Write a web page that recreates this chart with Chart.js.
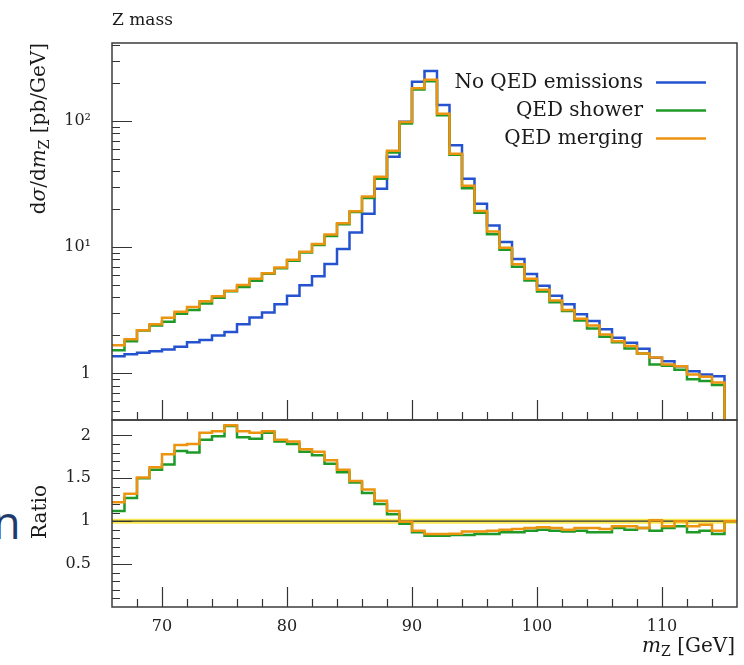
<!DOCTYPE html>
<html lang="en">
<head>
<meta charset="UTF-8" />
<title>Z mass</title>
<style>
  body { margin: 0; background: #fff; width: 744px; height: 665px; overflow: hidden; position: relative; }
  canvas { position: absolute; left: 0; }
  #zTop { top: 0; }
  #zRatio { top: 397px; }
  .stray { position: absolute; left: -7px; top: 499px; font: 45px/1 "Open Sans", sans-serif; color: #1f3a6e; }
</style>
<script src="https://cdn.jsdelivr.net/npm/chart.js"></script>
</head>
<body>
<span class="stray">n</span>
<canvas id="zTop" width="744" height="443"></canvas>
<canvas id="zRatio" width="744" height="268"></canvas>

<script>
  // bin edges in GeV (1 GeV bins)
  const binEdges = [66, 67, 68, 69, 70, 71, 72, 73, 74, 75, 76, 77, 78, 79, 80, 81, 82, 83, 84, 85,
    86, 87, 88, 89, 90, 91, 92, 93, 94, 95, 96, 97, 98, 99, 100, 101, 102, 103, 104, 105,
    106, 107, 108, 109, 110, 111, 112, 113, 114, 115, 116];

  // dsigma/dmZ [pb/GeV], bins 66..114
  const noQED = [1.37, 1.42, 1.46, 1.50, 1.55, 1.63, 1.77, 1.84, 2.00, 2.13,
    2.45, 2.77, 3.04, 3.54, 4.12, 5.01, 5.88, 7.36, 9.69, 13.1,
    18.4, 29.1, 52.0, 98.7, 205, 249, 134, 64.3, 34.9, 22.1,
    14.9, 11.0, 8.07, 6.13, 4.95, 4.12, 3.54, 2.95, 2.61, 2.24,
    1.92, 1.75, 1.57, 1.33, 1.25, 1.14, 1.04, 0.98, 0.95];
  const qedShower = [1.53, 1.80, 2.19, 2.40, 2.57, 2.97, 3.19, 3.59, 3.98, 4.49,
    4.85, 5.43, 6.17, 6.83, 7.83, 9.07, 10.4, 12.3, 15.2, 19.0,
    24.5, 34.9, 56.2, 95.7, 178, 207, 111, 54.0, 29.3, 18.8,
    12.7, 9.57, 7.02, 5.46, 4.46, 3.67, 3.12, 2.63, 2.27, 1.95,
    1.77, 1.58, 1.44, 1.18, 1.15, 1.07, 0.90, 0.87, 0.81];
  const qedMerging = [1.67, 1.87, 2.20, 2.45, 2.76, 3.08, 3.36, 3.74, 4.10, 4.52,
    5.02, 5.62, 6.23, 6.90, 7.95, 9.22, 10.6, 12.6, 15.5, 19.3,
    25.2, 36.1, 58.2, 98.2, 182, 212, 114, 55.0, 30.7, 19.4,
    13.3, 9.9, 7.34, 5.64, 4.60, 3.79, 3.19, 2.71, 2.40, 2.04,
    1.80, 1.65, 1.44, 1.34, 1.18, 1.14, 0.98, 0.94, 0.85];

  // ratio to "No QED emissions", bins 66..115
  const showerRatio = [1.12, 1.27, 1.50, 1.60, 1.66, 1.82, 1.80, 1.95, 1.99, 2.11,
    1.98, 1.96, 2.03, 1.93, 1.90, 1.81, 1.77, 1.67, 1.57, 1.45,
    1.33, 1.20, 1.08, 0.97, 0.87, 0.83, 0.83, 0.84, 0.84, 0.85,
    0.85, 0.87, 0.87, 0.89, 0.90, 0.89, 0.88, 0.89, 0.87, 0.87,
    0.92, 0.90, 0.92, 0.89, 0.92, 0.94, 0.87, 0.89, 0.85, 1.00];
  const mergingRatio = [1.22, 1.32, 1.51, 1.63, 1.78, 1.89, 1.90, 2.03, 2.05, 2.12,
    2.05, 2.03, 2.05, 1.95, 1.93, 1.84, 1.81, 1.71, 1.60, 1.47,
    1.37, 1.24, 1.12, 0.995, 0.89, 0.85, 0.85, 0.855, 0.88, 0.88,
    0.89, 0.90, 0.91, 0.92, 0.93, 0.92, 0.90, 0.92, 0.92, 0.91,
    0.94, 0.94, 0.92, 1.01, 0.94, 1.00, 0.94, 0.96, 0.89, 1.00];
  const refRatio = 1;

  const seriesNames = ["No QED emissions", "QED shower", "QED merging"];
  const colors = ["#2553cf", "#1f9a28", "#ec9410"];

  const topMin = 0.428, topMax = 415;
  const serif = '"DejaVu Serif", serif';

  // histogram as step line: one point per lower edge + closing point
  function histPoints(values, floor) {
    const pts = values.map((v, i) => ({ x: binEdges[i], y: v }));
    const n = values.length;
    pts.push({ x: binEdges[n], y: values[n - 1] });
    if (floor !== undefined) pts.push({ x: binEdges[n], y: floor });
    return pts;
  }

  // stepped "before": each value runs from its own edge to the next one
  function stepSet(label, data, color, order) {
    return {
      label: label, data: data, borderColor: color, backgroundColor: color,
      borderWidth: 2.5, stepped: "before", pointRadius: 0, fill: false,
      borderJoinStyle: "miter", borderCapStyle: "butt", order: order,
    };
  }

  function drawRich(ctx, parts, x, y) {
    let cx = x;
    parts.forEach((p) => {
      ctx.font = p.font;
      ctx.fillText(p.text, cx, y + (p.dy || 0));
      cx += ctx.measureText(p.text).width;
    });
  }
  function richWidth(ctx, parts) {
    return parts.reduce((w, p) => { ctx.font = p.font; return w + ctx.measureText(p.text).width; }, 0);
  }

  // frame + inward tick marks
  function framePlugin(yTickKind) {
    return {
      id: "frame",
      afterDatasetsDraw(chart) {
        const { ctx, chartArea: a } = chart;
        const xs = chart.scales.x, ys = chart.scales.y;
        ctx.save();
        ctx.strokeStyle = "#333";
        ctx.lineWidth = 1.2;
        ctx.beginPath();
        xs.ticks.forEach((t) => {
          if (t.value <= xs.min || t.value >= xs.max) return;
          const px = Math.round(xs.getPixelForValue(t.value)) + 0.5;
          const len = t.value % 10 === 0 ? 20 : 8;
          ctx.moveTo(px, a.bottom);
          ctx.lineTo(px, a.bottom - len);
        });
        ys.ticks.forEach((t) => {
          if (t.value <= ys.min || t.value >= ys.max) return;
          const k = yTickKind(t.value);
          if (!k) return;
          const py = Math.round(ys.getPixelForValue(t.value)) + 0.5;
          ctx.moveTo(a.left, py);
          ctx.lineTo(a.left + (k === 2 ? 20 : 8), py);
        });
        ctx.stroke();
        ctx.strokeStyle = "#3c3c3c";
        ctx.lineWidth = 1.5;
        ctx.strokeRect(a.left, a.top, a.right - a.left, a.bottom - a.top);
        ctx.restore();
      },
    };
  }

  const topText = {
    id: "topText",
    afterDraw(chart) {
      const ctx = chart.ctx;
      ctx.save();
      ctx.fillStyle = "#1a1a1a";
      ctx.textBaseline = "alphabetic";
      ctx.font = "17px " + serif;
      ctx.fillText("Z mass", 112, 25);

      // y title, rotated, aligned to the top of the frame
      const parts = [
        { text: "d", font: "20px " + serif },
        { text: "σ", font: "italic 20px " + serif },
        { text: "/d", font: "20px " + serif },
        { text: "m", font: "italic 20px " + serif },
        { text: "Z", font: "14px " + serif, dy: 4 },
        { text: " [pb/GeV]", font: "20px " + serif },
      ];
      ctx.save();
      ctx.translate(45, chart.chartArea.top);
      ctx.rotate(-Math.PI / 2);
      drawRich(ctx, parts, -richWidth(ctx, parts), 0);
      ctx.restore();

      // legend: text then line sample
      chart.data.datasets.forEach((ds, i) => {
        const y = 82 + i * 28;
        ctx.font = "20px " + serif;
        ctx.textAlign = "right";
        ctx.fillText(ds.label, 643, y + 6);
        ctx.strokeStyle = ds.borderColor;
        ctx.lineWidth = 2.5;
        ctx.beginPath();
        ctx.moveTo(656, y + 0.5);
        ctx.lineTo(706, y + 0.5);
        ctx.stroke();
      });
      ctx.restore();
    },
  };

  const ratioText = {
    id: "ratioText",
    afterDraw(chart) {
      const ctx = chart.ctx;
      ctx.save();
      ctx.fillStyle = "#1a1a1a";
      ctx.font = "20px " + serif;
      ctx.save();
      ctx.translate(46, 115);
      ctx.rotate(-Math.PI / 2);
      ctx.textAlign = "center";
      ctx.fillText("Ratio", 0, 0);
      ctx.restore();

      const parts = [
        { text: "m", font: "italic 20px " + serif },
        { text: "Z", font: "14px " + serif, dy: 4 },
        { text: " [GeV]", font: "20px " + serif },
      ];
      drawRich(ctx, parts, 735 - richWidth(ctx, parts), 255);
      ctx.restore();
    },
  };

  const tickFont = { family: "DejaVu Serif", size: 16 };
  const sup = { 1: "¹", 2: "²" };

  // main panel
  new Chart(document.getElementById("zTop"), {
    type: "line",
    data: {
      datasets: [
        stepSet(seriesNames[0], histPoints(noQED, topMin), colors[0], 2),
        stepSet(seriesNames[1], histPoints(qedShower, topMin), colors[1], 1),
        stepSet(seriesNames[2], histPoints(qedMerging, topMin), colors[2], 0),
      ],
    },
    options: {
      responsive: false,
      animation: false,
      layout: { padding: { top: 43, right: 7, bottom: 23, left: 0 } },
      plugins: { legend: { display: false }, tooltip: { enabled: false } },
      scales: {
        x: {
          type: "linear", min: 66, max: 116,
          ticks: { stepSize: 2, display: false, autoSkip: false },
          grid: { display: false }, border: { display: false },
          afterFit: (s) => { s.height = 0; },
        },
        y: {
          type: "logarithmic", min: topMin, max: topMax,
          afterBuildTicks: (s) => {
            const t = [];
            for (let e = -1; e <= 2; e++) {
              for (let m = 1; m <= 9; m++) {
                const v = +(m * Math.pow(10, e)).toPrecision(3);
                if (v >= s.min && v <= s.max) t.push({ value: v });
              }
            }
            s.ticks = t;
          },
          ticks: {
            autoSkip: false, padding: 13, font: tickFont, color: "#222",
            callback: (v) => {
              const e = Math.round(Math.log10(v));
              if (Math.abs(Math.log10(v) - e) > 1e-9) return "";
              return e === 0 ? "1" : "10" + sup[e];
            },
          },
          grid: { display: false }, border: { display: false },
          afterFit: (s) => { s.width = 112; },
        },
      },
    },
    plugins: [
      framePlugin((v) => {
        const p = Math.pow(10, Math.floor(Math.log10(v) + 1e-9));
        const m = v / p;
        if (Math.abs(m - Math.round(m)) > 1e-6) return 0;
        return Math.round(m) === 1 ? 2 : 1;
      }),
      topText,
    ],
  });

  // ratio panel
  const refLine = [{ x: binEdges[0], y: refRatio }, { x: binEdges[binEdges.length - 1], y: refRatio }];
  new Chart(document.getElementById("zRatio"), {
    type: "line",
    data: {
      datasets: [
        { label: "band", data: refLine, borderColor: "rgba(246, 228, 40, 0.8)", borderWidth: 5, pointRadius: 0, order: 4 },
        { label: seriesNames[0], data: refLine, borderColor: "#333", borderWidth: 1.3, pointRadius: 0, order: 3 },
        stepSet(seriesNames[1], histPoints(showerRatio), colors[1], 1),
        stepSet(seriesNames[2], histPoints(mergingRatio), colors[2], 0),
      ],
    },
    options: {
      responsive: false,
      animation: false,
      layout: { padding: { top: 23, right: 7, bottom: 0, left: 0 } },
      plugins: { legend: { display: false }, tooltip: { enabled: false } },
      scales: {
        x: {
          type: "linear", min: 66, max: 116,
          ticks: {
            stepSize: 2, autoSkip: false, maxRotation: 0, padding: 2, font: tickFont, color: "#222",
            callback: (v) => (v % 10 === 0 ? String(v) : ""),
          },
          grid: { display: false }, border: { display: false },
          afterFit: (s) => { s.height = 58; },
        },
        y: {
          type: "linear", min: 0, max: 2.18,
          ticks: {
            stepSize: 0.1, autoSkip: false, padding: 13, font: tickFont, color: "#222",
            callback: (v) => {
              const h = v * 2;
              return v > 0 && Math.abs(h - Math.round(h)) < 1e-6 ? String(+v.toFixed(1)) : "";
            },
          },
          grid: { display: false }, border: { display: false },
          afterFit: (s) => { s.width = 112; },
        },
      },
    },
    plugins: [
      framePlugin((v) => {
        const d = v * 10;
        if (Math.abs(d - Math.round(d)) > 1e-6) return 0;
        return Math.round(d) % 5 === 0 ? 2 : 1;
      }),
      ratioText,
    ],
  });
</script>
</body>
</html>
